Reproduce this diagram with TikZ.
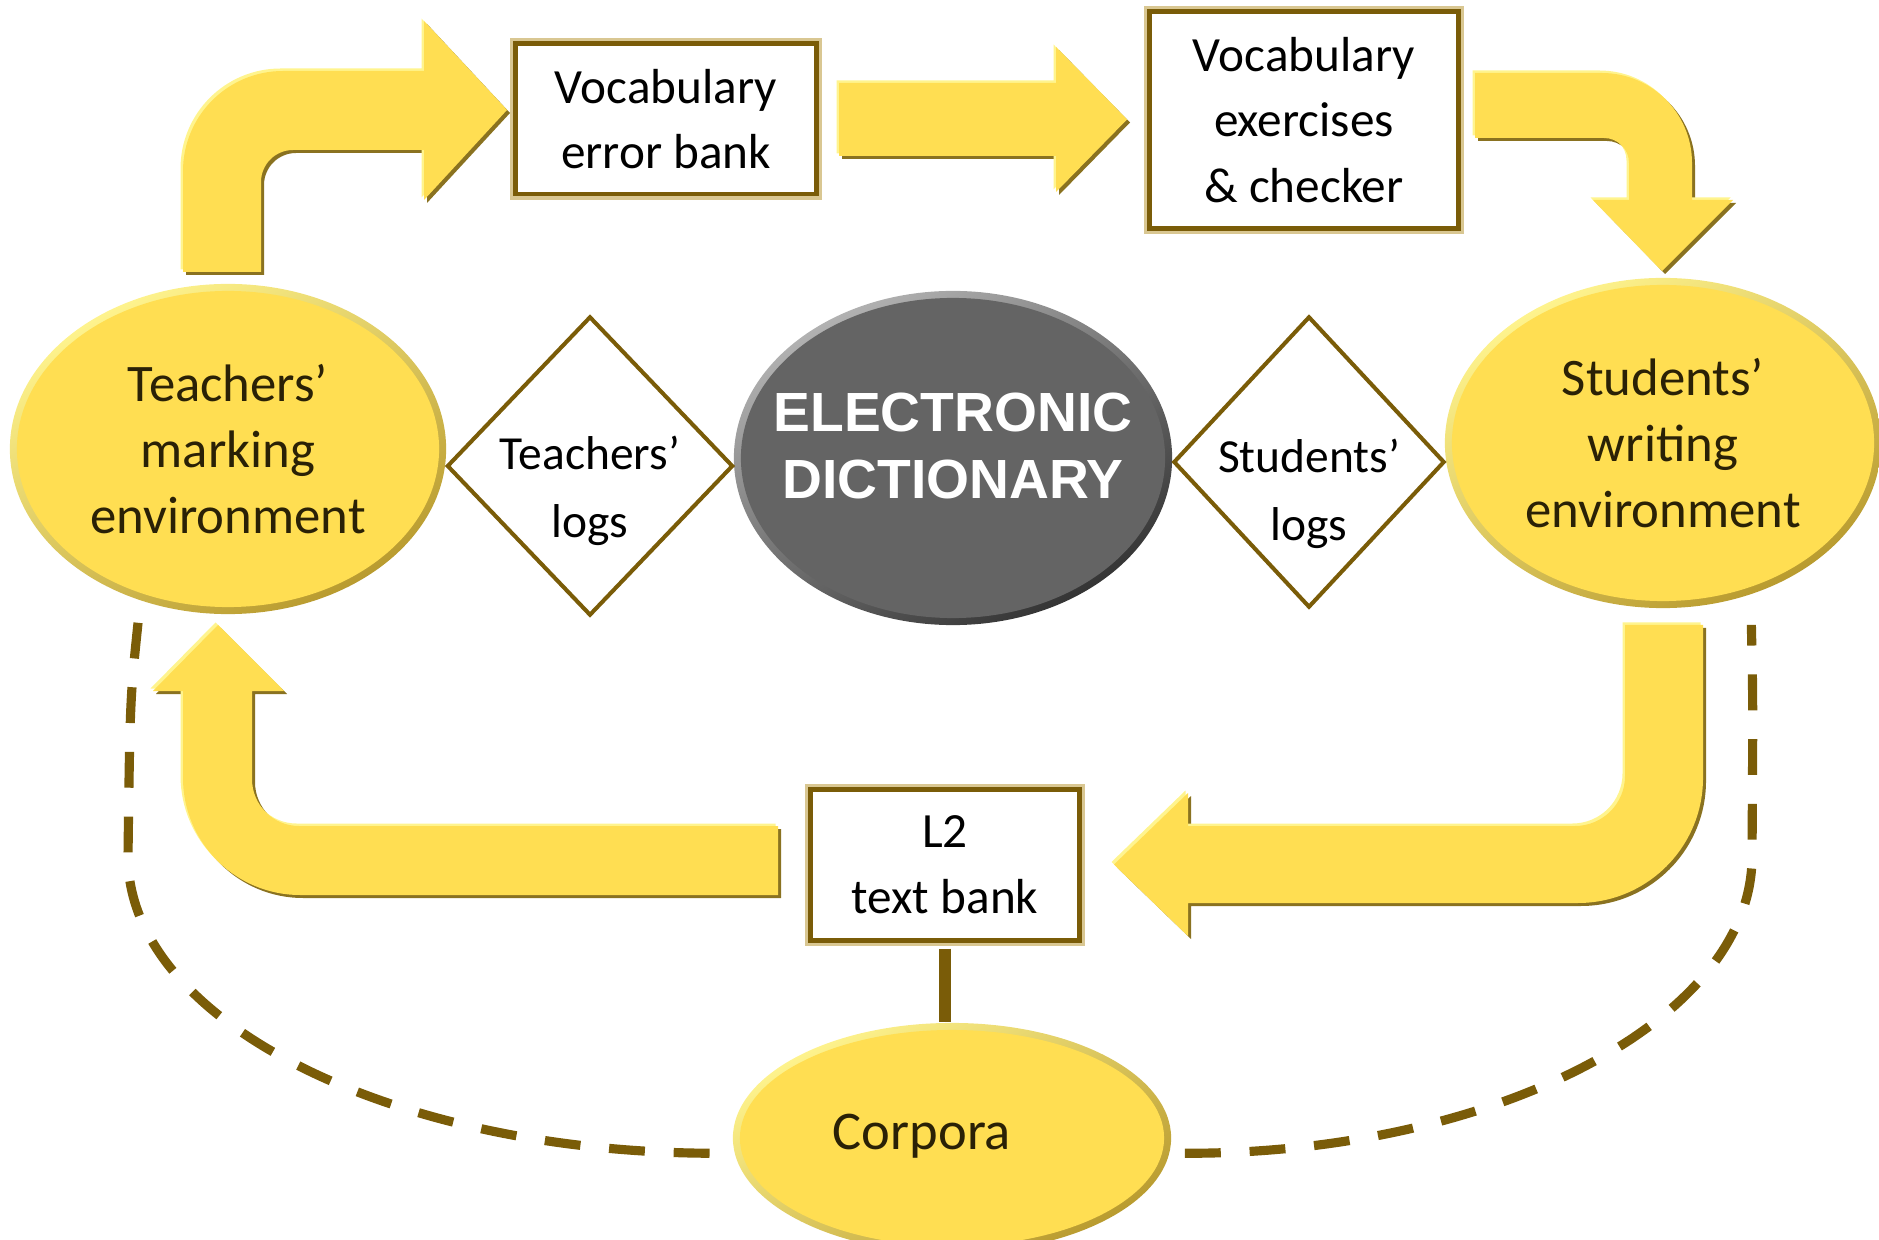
\documentclass[tikz,border=0pt]{standalone}
\usepackage{fontspec}
\setmainfont{Carlito}
\newfontfamily\dictfont{Liberation Sans}
\usetikzlibrary{shapes.geometric}
\usetikzlibrary{calc}

\definecolor{ycore}{HTML}{FFDE52}
\definecolor{ylight}{HTML}{FFF48E}
\definecolor{ydark}{HTML}{8A7220}
\definecolor{yrim}{HTML}{B89A2E}
\definecolor{goldline}{HTML}{7A5C08}
\definecolor{goldglow}{HTML}{D9C792}
\definecolor{greycore}{HTML}{646464}
\definecolor{inktext}{HTML}{2A2106}

\begin{document}
\begin{tikzpicture}[x=0.01cm, y=-0.01cm,
            yellowellipsenode/.style={ellipse, inner sep=0pt, align=center, text=inktext, font=\fontsize{15}{18.7}\selectfont,
                top color=ylight, bottom color=yrim, shading angle=30,
                path picture={\fill[ycore] let \p1=(path picture bounding box.south west), \p2=(path picture bounding box.north east) in
                    (path picture bounding box.center) ellipse [x radius={(\x2-\x1)/2-2pt}, y radius={(\y2-\y1)/2-2pt}];}},
            greyellipsenode/.style={ellipse, inner sep=0pt,
                top color=black!30, bottom color=black!80, shading angle=30,
                path picture={\fill[greycore] let \p1=(path picture bounding box.south west), \p2=(path picture bounding box.north east) in
                    (path picture bounding box.center) ellipse [x radius={(\x2-\x1)/2-2pt}, y radius={(\y2-\y1)/2-2pt}];}},
            goldsquarednode/.style={rectangle, draw=goldline, line width=1.4pt, fill=white, preaction={draw=goldglow, line width=3.2pt},
                inner sep=0pt, align=center, font=\fontsize{14}{18.7}\selectfont},
            golddiamondnode/.style={diamond, draw=goldline, line width=1.15pt, fill=white, inner sep=0pt},
            logtext/.style={align=center, font=\fontsize{13.5}{19.4}\selectfont},
            dicttext/.style={align=center, text=white, font=\dictfont\bfseries\fontsize{15.7}{19.3}\selectfont},
            yellowarrow/.style={fill=ycore, preaction={fill=ydark, transform canvas={shift={(3,3)}}},
                preaction={fill=ylight, transform canvas={shift={(-2.5,-2.5)}}}},
            dashedlink/.style={draw=goldline, line width=2.6pt, dash pattern=on 10.2pt off 8.2pt},
            solidlink/.style={draw=goldline, line width=3.4pt},
            ]
            \useasboundingbox (0,0) rectangle (1879,1240);

            \node[yellowellipsenode, minimum width=4.36cm, minimum height=3.30cm] (teachers) at (228,449) {Teachers’\\marking\\environment};
            \node[yellowellipsenode, minimum width=4.36cm, minimum height=3.30cm] (students) at (1663,443) {Students’\\writing\\environment};
            \node[greyellipsenode, minimum width=4.38cm, minimum height=3.34cm] (dict) at (953,458) {};
            \node[dicttext] (dicttitle) at (953,446) {ELECTRONIC\\DICTIONARY};
            \node[yellowellipsenode, minimum width=4.38cm, minimum height=2.30cm] (corpora) at (952,1138) {};
            \node[text=inktext, font=\fontsize{15.5}{18.7}\selectfont] (corporatext) at (922,1136) {Corpora};

            \node[goldsquarednode, minimum width=3.01cm, minimum height=1.50cm] (bank) at (666,119) {Vocabulary\\error bank};
            \node[goldsquarednode, minimum width=3.08cm, minimum height=2.16cm] (exercises) at (1304,120) {Vocabulary\\exercises\\\& checker};
            \node[goldsquarednode, minimum width=2.69cm, minimum height=1.50cm] (textbank) at (945,865) {L2\\text bank};

            \node[golddiamondnode, minimum width=2.86cm, minimum height=2.99cm] (tlogs) at (590,466) {};
            \node[logtext] (tlogstext) at (590,491) {Teachers’\\logs};
            \node[golddiamondnode, minimum width=2.71cm, minimum height=2.91cm] (slogs) at (1309,462) {};
            \node[logtext] (slogstext) at (1309,494) {Students’\\logs};

            \draw[solidlink, shorten <=0.06cm] (textbank.south) -- (textbank.south |- corpora.north);
            \draw[dashedlink, shorten <=0.22cm, shorten >=0.15cm] (teachers.240) .. controls (130,700) .. (128,857) .. controls (128,1021) and (392,1154) .. (corpora.184);
            \draw[dashedlink, shorten <=0.15cm, shorten >=0.30cm] (corpora.356) .. controls (1492,1154) and (1752,1021) .. (1752,857) .. controls (1753,700) .. (students.300);

            \fill[yellowarrow] (183,272) [rounded corners=1cm] -- (183,71) [sharp corners] -- (424,71) -- (424,21) -- (507,110) -- (424,200) -- (424,150) [rounded corners=0.32cm] -- (261,150) [sharp corners] -- (261,272) -- cycle;
            \fill[yellowarrow] (839,83) -- (1056,83) -- (1056,47) -- (1127,119.5) -- (1056,192) -- (1056,156) -- (839,156) -- cycle;
            \fill[yellowarrow] (1475,73) [rounded corners=0.9cm] -- (1692,73) [sharp corners] -- (1692,200) -- (1733,200) -- (1662,271) -- (1593,200) -- (1629,200) [rounded corners=0.25cm] -- (1629,138) [sharp corners] -- (1475,138) -- cycle;
            \fill[yellowarrow] (1703,625) [rounded corners=1.25cm] -- (1703,903) [sharp corners] -- (1188,903) -- (1188,936) -- (1114,864.5) -- (1188,793) -- (1188,826) [rounded corners=0.5cm] -- (1625,826) [sharp corners] -- (1625,625) -- cycle;
            \fill[yellowarrow] (778,895) [rounded corners=1.17cm] -- (183,895) [sharp corners] -- (183,691) -- (153,691) -- (218,625) -- (284,691) -- (252,691) [rounded corners=0.47cm] -- (252,826) [sharp corners] -- (778,826) -- cycle;
        \end{tikzpicture}
\end{document}
